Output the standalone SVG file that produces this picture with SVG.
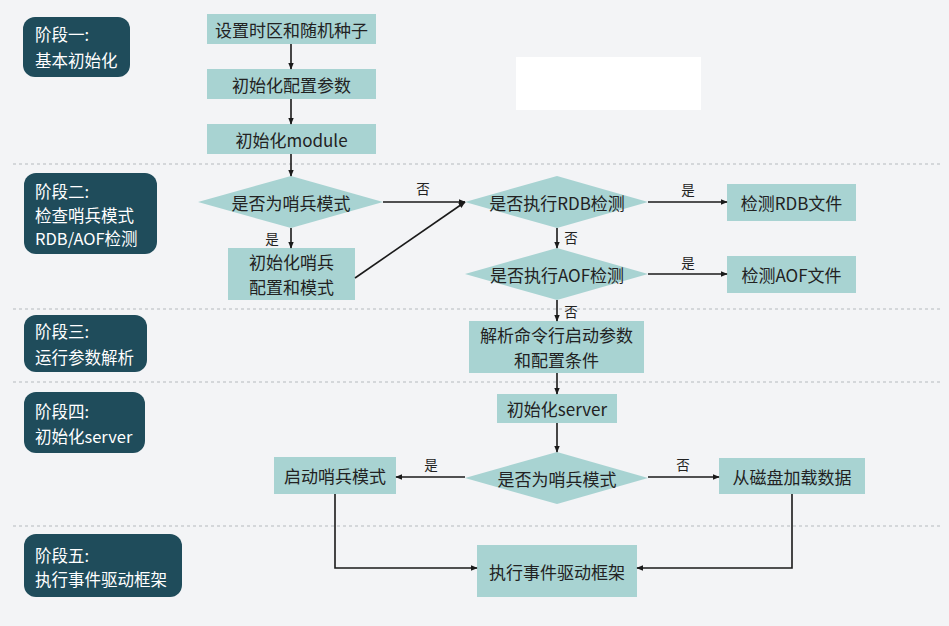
<svg xmlns="http://www.w3.org/2000/svg" width="949" height="626" viewBox="0 0 949 626">
<defs>
<marker id="ah" viewBox="0 0 10 10" refX="9" refY="5" markerWidth="7" markerHeight="7" markerUnits="userSpaceOnUse" orient="auto"><path d="M0,1 L10,5 L0,9 z" fill="#1a1a1a"/></marker>
<style>
.stage{fill:#1f4c5b}
.st{fill:#ffffff;font-family:"Noto Sans CJK SC","Noto Sans",sans-serif;font-size:16.5px;dominant-baseline:central}
.box{fill:#a8d3d2}
.dia{fill:#a8d3d2}
.t{fill:#222;font-family:"Noto Sans CJK SC","Noto Sans",sans-serif;font-size:17px;text-anchor:middle;dominant-baseline:central}
.lab{fill:#222;font-family:"Noto Sans CJK SC","Noto Sans",sans-serif;font-size:13.5px;text-anchor:middle;dominant-baseline:central}
.sep{stroke:#b5b9bd;stroke-width:1.2;stroke-dasharray:3 3;fill:none}
.c{stroke:#1a1a1a;stroke-width:1.6;fill:none}
</style>
</defs>
<rect width="949" height="626" fill="#f3f4f6"/>
<rect x="516" y="57" width="185" height="53" fill="#ffffff"/>
<g id="separators">
<line class="sep" x1="13" y1="164" x2="940" y2="164"/>
<line class="sep" x1="13" y1="309" x2="940" y2="309"/>
<line class="sep" x1="13" y1="382" x2="940" y2="382"/>
<line class="sep" x1="13" y1="526" x2="940" y2="526"/>
</g>
<g id="stage1"><rect class="stage" x="23" y="17" width="107" height="60" rx="12"/><text class="st" x="35" y="34">阶段一:</text><text class="st" x="35" y="60">基本初始化</text></g>
<g id="stage2"><rect class="stage" x="24" y="173" width="133" height="81" rx="12"/><text class="st" x="35" y="191">阶段二:</text><text class="st" x="35" y="214.5">检查哨兵模式</text><text class="st" x="35" y="238">RDB/AOF检测</text></g>
<g id="stage3"><rect class="stage" x="24" y="315" width="123" height="57" rx="12"/><text class="st" x="35" y="331">阶段三:</text><text class="st" x="35" y="357">运行参数解析</text></g>
<g id="stage4"><rect class="stage" x="24" y="392" width="121" height="61" rx="12"/><text class="st" x="35" y="411">阶段四:</text><text class="st" x="35" y="436">初始化server</text></g>
<g id="stage5"><rect class="stage" x="24" y="534" width="158" height="63" rx="12"/><text class="st" x="35" y="555">阶段五:</text><text class="st" x="35" y="579">执行事件驱动框架</text></g>

<g id="n1"><rect class="box" x="207" y="14" width="169" height="30"/><text class="t" x="291.5" y="29">设置时区和随机种子</text></g>
<g id="n2"><rect class="box" x="207" y="69" width="169" height="30"/><text class="t" x="291.5" y="84">初始化配置参数</text></g>
<g id="n3"><rect class="box" x="207" y="124" width="169" height="30"/><text class="t" x="291.5" y="139">初始化module</text></g>
<g id="d1"><polygon class="dia" points="198,202 291,176 383,202 291,228"/><text class="t" x="291" y="202">是否为哨兵模式</text></g>
<g id="n4"><rect class="box" x="228" y="248" width="127" height="52"/><text class="t" x="291.5" y="261.5">初始化哨兵</text><text class="t" x="291.5" y="286.5">配置和模式</text></g>
<g id="d2"><polygon class="dia" points="465,202 557,176 648,202 557,228"/><text class="t" x="557" y="202">是否执行RDB检测</text></g>
<g id="n5"><rect class="box" x="727" y="184" width="129" height="37"/><text class="t" x="791.5" y="202.5">检测RDB文件</text></g>
<g id="d3"><polygon class="dia" points="465,274 557,248 648,274 557,300"/><text class="t" x="557" y="274">是否执行AOF检测</text></g>
<g id="n6"><rect class="box" x="727" y="256" width="129" height="37"/><text class="t" x="791.5" y="274.5">检测AOF文件</text></g>
<g id="n7"><rect class="box" x="469" y="321" width="175" height="52"/><text class="t" x="556.5" y="334.5">解析命令行启动参数</text><text class="t" x="556.5" y="359.5">和配置条件</text></g>
<g id="n8"><rect class="box" x="497" y="394" width="120" height="29"/><text class="t" x="557" y="408.5">初始化server</text></g>
<g id="d4"><polygon class="dia" points="465,478 557,452 648,478 557,504"/><text class="t" x="557" y="478">是否为哨兵模式</text></g>
<g id="n9"><rect class="box" x="274" y="457" width="122" height="37"/><text class="t" x="335" y="475.5">启动哨兵模式</text></g>
<g id="n10"><rect class="box" x="719" y="458" width="146" height="36"/><text class="t" x="792" y="476">从磁盘加载数据</text></g>
<g id="n11"><rect class="box" x="477" y="545" width="160" height="52"/><text class="t" x="557" y="571">执行事件驱动框架</text></g>

<g id="connectors">
<line class="c" x1="291" y1="44" x2="291" y2="69" marker-end="url(#ah)"/>
<line class="c" x1="291" y1="99" x2="291" y2="124" marker-end="url(#ah)"/>
<line class="c" x1="291" y1="154" x2="291" y2="176" marker-end="url(#ah)"/>
<line class="c" x1="291" y1="228" x2="291" y2="248" marker-end="url(#ah)"/>
<line class="c" x1="383" y1="202" x2="465" y2="202" marker-end="url(#ah)"/>
<line class="c" x1="355" y1="278" x2="465" y2="202" marker-end="url(#ah)"/>
<line class="c" x1="648" y1="202" x2="727" y2="202" marker-end="url(#ah)"/>
<line class="c" x1="557" y1="228" x2="557" y2="248" marker-end="url(#ah)"/>
<line class="c" x1="648" y1="274" x2="727" y2="274" marker-end="url(#ah)"/>
<line class="c" x1="557" y1="300" x2="557" y2="321" marker-end="url(#ah)"/>
<line class="c" x1="557" y1="373" x2="557" y2="394" marker-end="url(#ah)"/>
<line class="c" x1="557" y1="423" x2="557" y2="452" marker-end="url(#ah)"/>
<line class="c" x1="465" y1="477" x2="396" y2="477" marker-end="url(#ah)"/>
<line class="c" x1="648" y1="477" x2="719" y2="477" marker-end="url(#ah)"/>
<polyline class="c" points="335,494 335,568 477,568" marker-end="url(#ah)"/>
<polyline class="c" points="792,494 792,568 637,568" marker-end="url(#ah)"/>
<text class="lab" x="423" y="188">否</text>
<text class="lab" x="272" y="238">是</text>
<text class="lab" x="688" y="189">是</text>
<text class="lab" x="571" y="237">否</text>
<text class="lab" x="688" y="262">是</text>
<text class="lab" x="571" y="311">否</text>
<text class="lab" x="431" y="464">是</text>
<text class="lab" x="683" y="464">否</text>
</g>
</svg>
